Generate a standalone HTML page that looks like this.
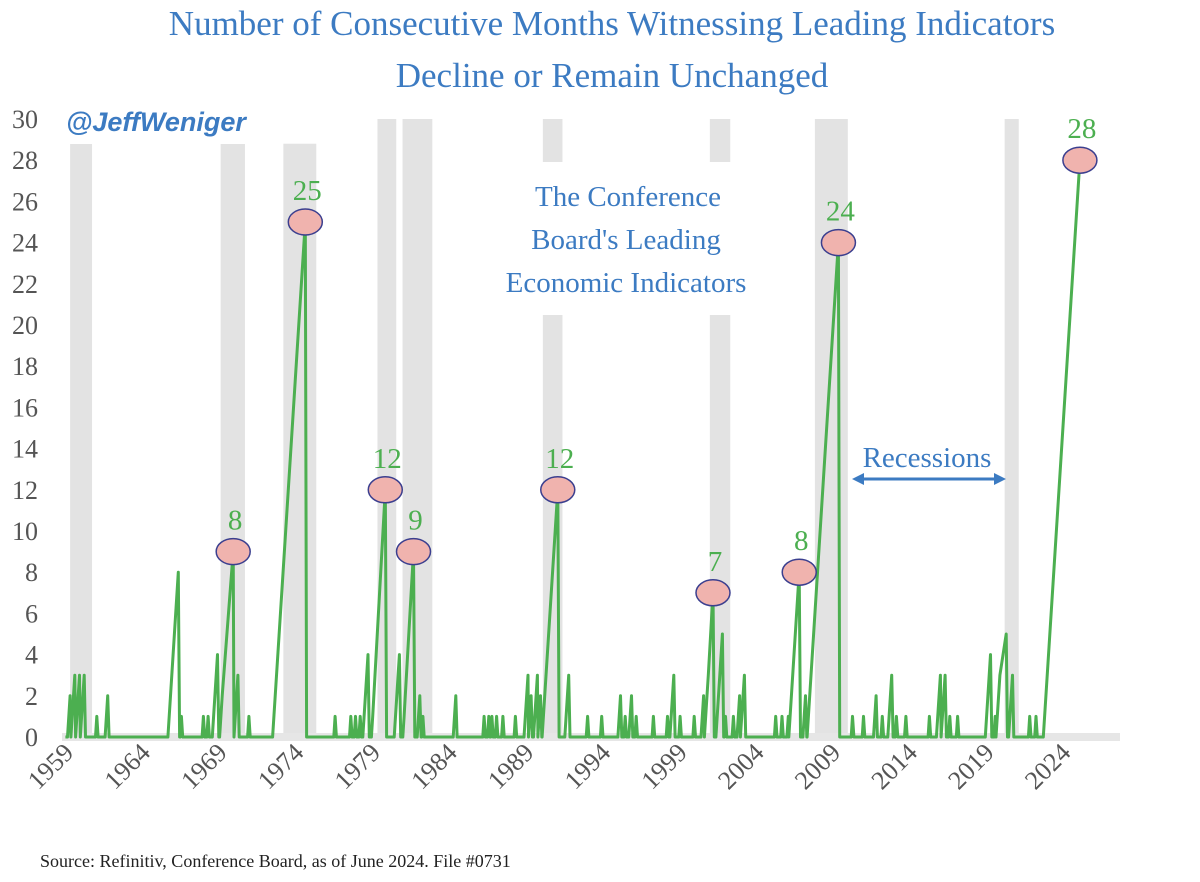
<!DOCTYPE html>
<html><head><meta charset="utf-8">
<style>
html,body{margin:0;padding:0;background:#fff;}
svg{display:block;font-family:"Liberation Serif",serif;}
</style></head>
<body>
<svg id="chart" width="1200" height="882" viewBox="0 0 1200 882" xmlns="http://www.w3.org/2000/svg">
<g id="bands"></g>
<rect x="62" y="733" width="1058" height="8" fill="#e6e6e6"/>
<text x="612" y="35" text-anchor="middle" font-size="35" fill="#3c7bc2">Number of Consecutive Months Witnessing Leading Indicators</text>
<text x="612" y="87" text-anchor="middle" font-size="35" fill="#3c7bc2">Decline or Remain Unchanged</text>
<rect x="62" y="104" width="220" height="40" fill="#fff"/>
<text x="66" y="131" font-size="27" font-weight="bold" font-style="italic" fill="#3c7bc2" font-family="Liberation Sans,sans-serif">@JeffWeniger</text>
<rect x="470" y="162" width="310" height="153" fill="#fff"/>
<g font-size="29" fill="#3c7bc2" text-anchor="middle">
<text x="628" y="206">The Conference</text>
<text x="626" y="249">Board's Leading</text>
<text x="626" y="292">Economic Indicators</text>
</g>
<g id="yaxis"></g>
<g id="xaxis"></g>
<path id="line" fill="none" stroke="#4caf50" stroke-width="3" stroke-linejoin="round"/>
<g id="peaks"></g>
<text x="927" y="467" text-anchor="middle" font-size="29" fill="#3c7bc2">Recessions</text>
<g stroke="#3c7bc2" stroke-width="3" fill="#3c7bc2">
<line x1="860" y1="479" x2="998" y2="479"/>
<polygon points="852,479 864,473 864,485" stroke="none"/>
<polygon points="1006,479 994,473 994,485" stroke="none"/>
</g>
<text x="40" y="867" font-size="18" fill="#222">Source: Refinitiv, Conference Board, as of June 2024. File #0731</text>
</svg>
<script>
const yTicks=[0,2,4,6,8,10,12,14,16,18,20,22,24,26,28,30];
const xTickYears=[1959,1964,1969,1974,1979,1984,1989,1994,1999,2004,2009,2014,2019,2024];
const recStart=[1959.9,1969.5,1973.5,1979.5,1981.1,1990.05,2000.7,2007.4,2019.5];
const recEnd=[1961.3,1971.05,1975.6,1980.7,1983.0,1991.3,2002.0,2009.5,2020.4];
const recTop=[28.8,28.8,28.8,30,30,30,30,30,30];
const years=[1959.9,1960.2,1960.5,1960.8,1961.6,1962.3,1966.8,1967.0,1968.4,1968.7,1969.3,1969.6,1970.3,1970.6,1971.3,1974.9,1976.8,1977.8,1978.1,1978.4,1978.9,1979.2,1980.0,1980.9,1981.2,1981.8,1982.2,1982.4,1984.5,1986.3,1986.6,1986.8,1987.1,1987.5,1988.3,1989.1,1989.3,1989.7,1989.9,1991.0,1991.7,1992.9,1993.8,1995.0,1995.3,1995.7,1996.0,1997.1,1998.0,1998.4,1998.8,1999.7,2000.3,2000.6,2000.9,2001.5,2001.7,2002.2,2002.6,2002.9,2004.9,2005.3,2005.7,2006.4,2006.8,2008.9,2009.8,2010.5,2011.3,2011.7,2012.3,2012.6,2013.2,2014.7,2015.4,2015.7,2016.0,2016.5,2018.6,2018.9,2019.2,2019.6,2020.0,2021.1,2021.5,2024.3];
const values=[2,3,3,3,1,2,8,1,1,1,4,2,9,3,1,25,1,1,1,1,4,1,12,4,1,9,2,1,2,1,1,1,1,1,1,3,2,3,2,12,3,1,1,2,1,2,1,1,1,3,1,1,2,3,7,5,1,1,2,3,1,1,1,8,2,24,1,1,2,1,3,1,1,1,3,3,1,1,4,1,3,5,3,1,1,28];
const peakYears=[1970.3,1974.9,1980.0,1981.8,1991.0,2000.9,2006.4,2008.9,2024.3];
const peakValues=[9,25,12,9,12,7,8,24,28];
const peakLabels=["8","25","12","9","12","7","8","24","28"];

const NS="http://www.w3.org/2000/svg";
const x=y=>56+(y-1959)*15.68;
const yv=v=>737-v*20.6;
const xl=y=>75+(y-1959)*15.34;
function mk(tag,attrs,parent){const e=document.createElementNS(NS,tag);for(const k in attrs)e.setAttribute(k,attrs[k]);parent.appendChild(e);return e;}

const bands=document.getElementById('bands');
recStart.forEach((s,i)=>{
  const r=mk('rect',{x:x(s),y:yv(recTop[i]),width:x(recEnd[i])-x(s),height:737-yv(recTop[i]),fill:'#e3e3e3'},bands);
  
  
});
const ya=document.getElementById('yaxis');
yTicks.forEach(t=>{
  const e=mk('text',{x:38,y:yv(t)+9,'text-anchor':'end','font-size':26,fill:'#555'},ya);
  e.textContent=t;
  
  
});
const xa=document.getElementById('xaxis');
xTickYears.forEach(t=>{
  const px=xl(t),py=754;
  const e=mk('text',{x:px,y:py,'text-anchor':'end','font-size':26,fill:'#555',transform:`rotate(-45 ${px} ${py})`},xa);
  e.textContent=t;
  
  
});
let pts=[[years[0]-0.3,0]];let prevEnd=-1e9;
years.forEach((t,i)=>{
  const v=values[i];
  let s=t-v/12;
  if(s>prevEnd){pts.push([s,0]);}
  pts.push([t,v]);
  if(i+1>=years.length)return;
  const e=t+1/12;
  const nxt=years[i+1]-values[i+1]/12;
  if(e<nxt){pts.push([e,0]);prevEnd=e;}else{prevEnd=t;}
});
document.getElementById('line').setAttribute('d',pts.map((p,i)=>(i?'L':'M')+x(p[0]).toFixed(1)+' '+yv(p[1]).toFixed(1)).join(' '));
const pk=document.getElementById('peaks');
peakYears.forEach((t,i)=>{
  const c=mk('ellipse',{cx:x(t),cy:yv(peakValues[i]),rx:17,ry:13,fill:'#f0b3ae',stroke:'#3b3f8f','stroke-width':1.5},pk);
  
  
  const l=mk('text',{x:x(t)+2,y:yv(peakValues[i])-22,'text-anchor':'middle','font-size':29,fill:'#4caf50'},pk);
  l.textContent=peakLabels[i];
  
  
});
</script>
</body></html>
